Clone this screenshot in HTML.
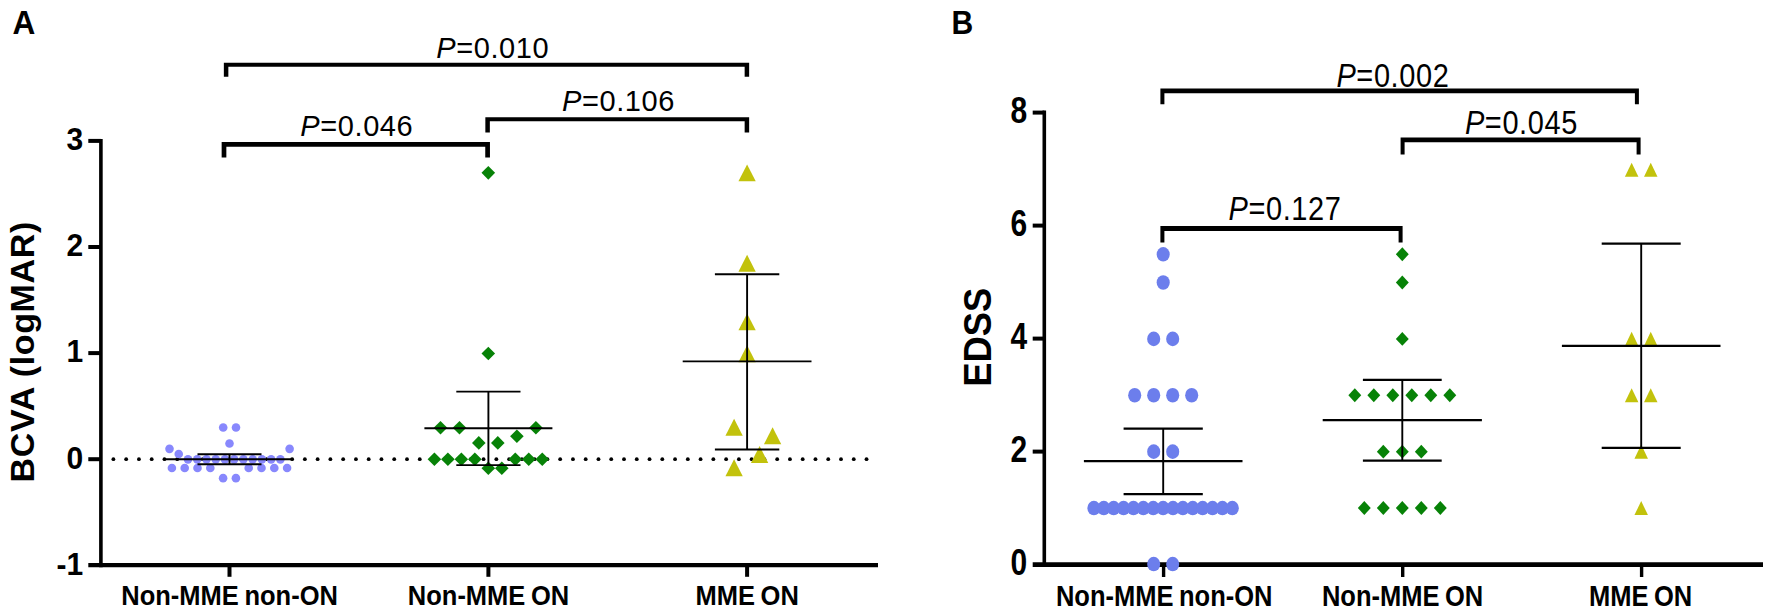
<!DOCTYPE html>
<html lang="en"><head><meta charset="utf-8"><title>Figure</title>
<style>
html,body{margin:0;padding:0;background:#fff;}
body{width:1772px;height:616px;overflow:hidden;}
svg{display:block;}
text{font-family:"Liberation Sans", sans-serif;fill:#000;}
.b{font-weight:bold;}
.p{font-size:29px;letter-spacing:0.6px;}
.xl{font-size:25.5px;font-weight:bold;}
.ln{stroke:#000;fill:none;}
</style></head><body>
<svg width="1772" height="616" viewBox="0 0 1772 616">
<rect width="1772" height="616" fill="#fff"/>
<text class="b" font-size="31.6px" transform="translate(12.4,34.0) scale(1,1.043)">A</text>
<text class="b" font-size="30.1px" transform="translate(951.4,34.0) scale(1,1.087)">B</text>
<line x1="100.90" y1="138.90" x2="100.90" y2="567.20" stroke="#000" stroke-width="3.60" />
<line x1="88.30" y1="565.20" x2="878.00" y2="565.20" stroke="#000" stroke-width="4.20" />
<line x1="88.30" y1="140.90" x2="100.90" y2="140.90" stroke="#000" stroke-width="4.00" />
<line x1="88.30" y1="247.00" x2="100.90" y2="247.00" stroke="#000" stroke-width="4.00" />
<line x1="88.30" y1="353.10" x2="100.90" y2="353.10" stroke="#000" stroke-width="4.00" />
<line x1="88.30" y1="459.20" x2="100.90" y2="459.20" stroke="#000" stroke-width="4.00" />
<line x1="229.50" y1="565.20" x2="229.50" y2="576.80" stroke="#000" stroke-width="4.00" />
<line x1="488.40" y1="565.20" x2="488.40" y2="576.80" stroke="#000" stroke-width="4.00" />
<line x1="747.10" y1="565.20" x2="747.10" y2="576.80" stroke="#000" stroke-width="4.00" />
<text class="b" font-size="30px" text-anchor="end" transform="translate(83.2,150.20) scale(1,1.075)">3</text>
<text class="b" font-size="30px" text-anchor="end" transform="translate(83.2,256.30) scale(1,1.075)">2</text>
<text class="b" font-size="30px" text-anchor="end" transform="translate(83.2,362.40) scale(1,1.075)">1</text>
<text class="b" font-size="30px" text-anchor="end" transform="translate(83.2,468.50) scale(1,1.075)">0</text>
<text class="b" font-size="30px" text-anchor="end" transform="translate(83.2,574.60) scale(1,1.075)">-1</text>
<text class="b" font-size="34px" letter-spacing="0.64px" text-anchor="middle" transform="translate(34.3,351.8) rotate(-90)">BCVA (logMAR)</text>
<text class="xl" word-spacing="-1.5px" text-anchor="middle" transform="translate(229.60,604.9) scale(1,1.056)">Non-MME non-ON</text>
<text class="xl" word-spacing="-1.5px" text-anchor="middle" transform="translate(488.50,604.9) scale(1,1.056)">Non-MME ON</text>
<text class="xl" word-spacing="-1.5px" text-anchor="middle" transform="translate(747.20,604.9) scale(1,1.056)">MME ON</text>
<g fill="#000">
<circle cx="113.40" cy="459.20" r="1.9"/>
<circle cx="126.17" cy="459.20" r="1.9"/>
<circle cx="138.93" cy="459.20" r="1.9"/>
<circle cx="151.69" cy="459.20" r="1.9"/>
<circle cx="164.46" cy="459.20" r="1.9"/>
<circle cx="177.22" cy="459.20" r="1.9"/>
<circle cx="189.99" cy="459.20" r="1.9"/>
<circle cx="202.75" cy="459.20" r="1.9"/>
<circle cx="215.52" cy="459.20" r="1.9"/>
<circle cx="228.28" cy="459.20" r="1.9"/>
<circle cx="241.05" cy="459.20" r="1.9"/>
<circle cx="253.81" cy="459.20" r="1.9"/>
<circle cx="266.58" cy="459.20" r="1.9"/>
<circle cx="279.34" cy="459.20" r="1.9"/>
<circle cx="292.11" cy="459.20" r="1.9"/>
<circle cx="304.87" cy="459.20" r="1.9"/>
<circle cx="317.64" cy="459.20" r="1.9"/>
<circle cx="330.40" cy="459.20" r="1.9"/>
<circle cx="343.17" cy="459.20" r="1.9"/>
<circle cx="355.93" cy="459.20" r="1.9"/>
<circle cx="368.70" cy="459.20" r="1.9"/>
<circle cx="381.46" cy="459.20" r="1.9"/>
<circle cx="394.23" cy="459.20" r="1.9"/>
<circle cx="406.99" cy="459.20" r="1.9"/>
<circle cx="419.76" cy="459.20" r="1.9"/>
<circle cx="432.52" cy="459.20" r="1.9"/>
<circle cx="445.29" cy="459.20" r="1.9"/>
<circle cx="458.05" cy="459.20" r="1.9"/>
<circle cx="470.82" cy="459.20" r="1.9"/>
<circle cx="483.58" cy="459.20" r="1.9"/>
<circle cx="496.35" cy="459.20" r="1.9"/>
<circle cx="509.11" cy="459.20" r="1.9"/>
<circle cx="521.88" cy="459.20" r="1.9"/>
<circle cx="534.64" cy="459.20" r="1.9"/>
<circle cx="547.41" cy="459.20" r="1.9"/>
<circle cx="560.17" cy="459.20" r="1.9"/>
<circle cx="572.94" cy="459.20" r="1.9"/>
<circle cx="585.70" cy="459.20" r="1.9"/>
<circle cx="598.47" cy="459.20" r="1.9"/>
<circle cx="611.23" cy="459.20" r="1.9"/>
<circle cx="624.00" cy="459.20" r="1.9"/>
<circle cx="636.76" cy="459.20" r="1.9"/>
<circle cx="649.53" cy="459.20" r="1.9"/>
<circle cx="662.29" cy="459.20" r="1.9"/>
<circle cx="675.06" cy="459.20" r="1.9"/>
<circle cx="687.82" cy="459.20" r="1.9"/>
<circle cx="700.59" cy="459.20" r="1.9"/>
<circle cx="713.35" cy="459.20" r="1.9"/>
<circle cx="726.12" cy="459.20" r="1.9"/>
<circle cx="738.88" cy="459.20" r="1.9"/>
<circle cx="751.65" cy="459.20" r="1.9"/>
<circle cx="764.41" cy="459.20" r="1.9"/>
<circle cx="777.18" cy="459.20" r="1.9"/>
<circle cx="789.94" cy="459.20" r="1.9"/>
<circle cx="802.71" cy="459.20" r="1.9"/>
<circle cx="815.47" cy="459.20" r="1.9"/>
<circle cx="828.24" cy="459.20" r="1.9"/>
<circle cx="841.00" cy="459.20" r="1.9"/>
<circle cx="853.77" cy="459.20" r="1.9"/>
<circle cx="866.53" cy="459.20" r="1.9"/>
</g>
<circle cx="223.20" cy="427.52" r="4.30" fill="#8888fd"/>
<circle cx="236.00" cy="427.52" r="4.30" fill="#8888fd"/>
<circle cx="229.50" cy="443.43" r="4.30" fill="#8888fd"/>
<circle cx="169.50" cy="448.85" r="4.30" fill="#8888fd"/>
<circle cx="178.74" cy="454.05" r="4.30" fill="#8888fd"/>
<circle cx="187.98" cy="459.35" r="4.30" fill="#8888fd"/>
<circle cx="197.22" cy="459.35" r="4.30" fill="#8888fd"/>
<circle cx="206.46" cy="459.35" r="4.30" fill="#8888fd"/>
<circle cx="215.70" cy="459.35" r="4.30" fill="#8888fd"/>
<circle cx="224.94" cy="459.35" r="4.30" fill="#8888fd"/>
<circle cx="234.18" cy="459.35" r="4.30" fill="#8888fd"/>
<circle cx="243.42" cy="459.35" r="4.30" fill="#8888fd"/>
<circle cx="252.66" cy="459.35" r="4.30" fill="#8888fd"/>
<circle cx="261.90" cy="459.35" r="4.30" fill="#8888fd"/>
<circle cx="271.14" cy="459.35" r="4.30" fill="#8888fd"/>
<circle cx="280.38" cy="459.35" r="4.30" fill="#8888fd"/>
<circle cx="289.62" cy="448.85" r="4.30" fill="#8888fd"/>
<circle cx="171.90" cy="467.95" r="4.30" fill="#8888fd"/>
<circle cx="184.70" cy="467.95" r="4.30" fill="#8888fd"/>
<circle cx="197.50" cy="467.95" r="4.30" fill="#8888fd"/>
<circle cx="210.30" cy="467.95" r="4.30" fill="#8888fd"/>
<circle cx="223.10" cy="478.15" r="4.30" fill="#8888fd"/>
<circle cx="235.90" cy="478.15" r="4.30" fill="#8888fd"/>
<circle cx="248.70" cy="467.95" r="4.30" fill="#8888fd"/>
<circle cx="261.50" cy="467.95" r="4.30" fill="#8888fd"/>
<circle cx="274.30" cy="467.95" r="4.30" fill="#8888fd"/>
<circle cx="287.10" cy="467.95" r="4.30" fill="#8888fd"/>
<line x1="165.60" y1="459.30" x2="293.40" y2="459.30" stroke="#000" stroke-width="1.90" />
<line x1="197.50" y1="454.20" x2="261.50" y2="454.20" stroke="#000" stroke-width="1.90" />
<line x1="197.50" y1="464.20" x2="261.50" y2="464.20" stroke="#000" stroke-width="1.90" />
<line x1="229.50" y1="454.20" x2="229.50" y2="464.20" stroke="#000" stroke-width="1.90" />
<path fill="#078207" d="M488.30 166.03 L495.10 172.83 L488.30 179.63 L481.50 172.83 Z"/>
<path fill="#078207" d="M488.30 346.70 L495.10 353.50 L488.30 360.30 L481.50 353.50 Z"/>
<path fill="#078207" d="M440.50 420.90 L447.30 427.70 L440.50 434.50 L433.70 427.70 Z"/>
<path fill="#078207" d="M459.50 420.90 L466.30 427.70 L459.50 434.50 L452.70 427.70 Z"/>
<path fill="#078207" d="M535.90 420.90 L542.70 427.70 L535.90 434.50 L529.10 427.70 Z"/>
<path fill="#078207" d="M516.90 429.40 L523.70 436.20 L516.90 443.00 L510.10 436.20 Z"/>
<path fill="#078207" d="M478.80 436.10 L485.60 442.90 L478.80 449.70 L472.00 442.90 Z"/>
<path fill="#078207" d="M497.80 436.10 L504.60 442.90 L497.80 449.70 L491.00 442.90 Z"/>
<path fill="#078207" d="M434.40 452.50 L441.20 459.30 L434.40 466.10 L427.60 459.30 Z"/>
<path fill="#078207" d="M447.88 452.50 L454.68 459.30 L447.88 466.10 L441.08 459.30 Z"/>
<path fill="#078207" d="M461.36 452.50 L468.16 459.30 L461.36 466.10 L454.56 459.30 Z"/>
<path fill="#078207" d="M474.84 452.50 L481.64 459.30 L474.84 466.10 L468.04 459.30 Z"/>
<path fill="#078207" d="M488.32 461.50 L495.12 468.30 L488.32 475.10 L481.52 468.30 Z"/>
<path fill="#078207" d="M501.80 461.50 L508.60 468.30 L501.80 475.10 L495.00 468.30 Z"/>
<path fill="#078207" d="M515.28 452.50 L522.08 459.30 L515.28 466.10 L508.48 459.30 Z"/>
<path fill="#078207" d="M528.76 452.50 L535.56 459.30 L528.76 466.10 L521.96 459.30 Z"/>
<path fill="#078207" d="M542.24 452.50 L549.04 459.30 L542.24 466.10 L535.44 459.30 Z"/>
<line x1="424.40" y1="428.20" x2="552.40" y2="428.20" stroke="#000" stroke-width="1.90" />
<line x1="456.30" y1="391.60" x2="520.50" y2="391.60" stroke="#000" stroke-width="1.90" />
<line x1="456.30" y1="465.10" x2="520.50" y2="465.10" stroke="#000" stroke-width="1.90" />
<line x1="488.40" y1="391.60" x2="488.40" y2="465.10" stroke="#000" stroke-width="1.90" />
<path fill="#c2c20c" d="M747.10 164.45 L755.75 181.35 L738.45 181.35 Z"/>
<path fill="#c2c20c" d="M747.10 254.75 L755.75 271.65 L738.45 271.65 Z"/>
<path fill="#c2c20c" d="M747.10 313.45 L755.75 330.35 L738.45 330.35 Z"/>
<path fill="#c2c20c" d="M747.10 345.35 L755.75 362.25 L738.45 362.25 Z"/>
<path fill="#c2c20c" d="M734.10 418.75 L742.75 435.65 L725.45 435.65 Z"/>
<path fill="#c2c20c" d="M772.60 427.25 L781.25 444.15 L763.95 444.15 Z"/>
<path fill="#c2c20c" d="M759.60 446.05 L768.25 462.95 L750.95 462.95 Z"/>
<path fill="#c2c20c" d="M734.10 459.35 L742.75 476.25 L725.45 476.25 Z"/>
<line x1="682.70" y1="361.40" x2="811.50" y2="361.40" stroke="#000" stroke-width="1.90" />
<line x1="714.90" y1="274.20" x2="779.30" y2="274.20" stroke="#000" stroke-width="1.90" />
<line x1="714.90" y1="449.50" x2="779.30" y2="449.50" stroke="#000" stroke-width="1.90" />
<line x1="747.10" y1="274.20" x2="747.10" y2="449.50" stroke="#000" stroke-width="1.90" />
<path fill="#000" d="M223.85 62.80 H749.15 V76.70 H744.65 V66.80 H228.35 V76.70 H223.85 Z"/>
<path fill="#000" d="M221.65 141.95 H489.95 V157.60 H485.25 V146.65 H226.35 V157.60 H221.65 Z"/>
<path fill="#000" d="M485.35 117.30 H749.15 V132.50 H744.65 V121.30 H489.85 V132.50 H485.35 Z"/>
<text class="p" text-anchor="middle" transform="translate(492.70,57.70) scale(1,1.040)"><tspan font-style="italic">P</tspan>=0.010</text>
<text class="p" text-anchor="middle" transform="translate(356.80,135.80) scale(1,1.040)"><tspan font-style="italic">P</tspan>=0.046</text>
<text class="p" text-anchor="middle" transform="translate(618.50,110.60) scale(1,1.040)"><tspan font-style="italic">P</tspan>=0.106</text>
<line x1="1044.30" y1="110.60" x2="1044.30" y2="566.60" stroke="#000" stroke-width="3.60" />
<line x1="1032.70" y1="564.60" x2="1763.00" y2="564.60" stroke="#000" stroke-width="4.80" />
<line x1="1032.70" y1="112.60" x2="1044.30" y2="112.60" stroke="#000" stroke-width="4.00" />
<line x1="1032.70" y1="225.60" x2="1044.30" y2="225.60" stroke="#000" stroke-width="4.00" />
<line x1="1032.70" y1="338.60" x2="1044.30" y2="338.60" stroke="#000" stroke-width="4.00" />
<line x1="1032.70" y1="451.60" x2="1044.30" y2="451.60" stroke="#000" stroke-width="4.00" />
<line x1="1163.60" y1="564.60" x2="1163.60" y2="577.00" stroke="#000" stroke-width="3.40" />
<line x1="1402.70" y1="564.60" x2="1402.70" y2="577.00" stroke="#000" stroke-width="3.40" />
<line x1="1641.60" y1="564.60" x2="1641.60" y2="577.00" stroke="#000" stroke-width="3.40" />
<text class="b" font-size="30px" text-anchor="end" transform="translate(1027.3,122.70) scale(1,1.2)">8</text>
<text class="b" font-size="30px" text-anchor="end" transform="translate(1027.3,235.70) scale(1,1.2)">6</text>
<text class="b" font-size="30px" text-anchor="end" transform="translate(1027.3,348.70) scale(1,1.2)">4</text>
<text class="b" font-size="30px" text-anchor="end" transform="translate(1027.3,461.70) scale(1,1.2)">2</text>
<text class="b" font-size="30px" text-anchor="end" transform="translate(1027.3,574.70) scale(1,1.2)">0</text>
<text class="b" font-size="36.8px" text-anchor="middle" transform="translate(991.1,337.2) rotate(-90) scale(0.99,1.04)">EDSS</text>
<text class="xl" word-spacing="-1.5px" text-anchor="middle" transform="translate(1164.20,606.3) scale(1,1.17)">Non-MME non-ON</text>
<text class="xl" word-spacing="-1.5px" text-anchor="middle" transform="translate(1402.60,606.3) scale(1,1.17)">Non-MME ON</text>
<text class="xl" word-spacing="-1.5px" text-anchor="middle" transform="translate(1640.60,606.3) scale(1,1.17)">MME ON</text>
<ellipse cx="1163.20" cy="254.30" rx="6.55" ry="7.30" fill="#6c7eec"/>
<ellipse cx="1163.20" cy="282.49" rx="6.55" ry="7.30" fill="#6c7eec"/>
<ellipse cx="1153.70" cy="338.88" rx="6.55" ry="7.30" fill="#6c7eec"/>
<ellipse cx="1172.70" cy="338.88" rx="6.55" ry="7.30" fill="#6c7eec"/>
<ellipse cx="1134.70" cy="395.27" rx="6.55" ry="7.30" fill="#6c7eec"/>
<ellipse cx="1153.70" cy="395.27" rx="6.55" ry="7.30" fill="#6c7eec"/>
<ellipse cx="1172.70" cy="395.27" rx="6.55" ry="7.30" fill="#6c7eec"/>
<ellipse cx="1191.70" cy="395.27" rx="6.55" ry="7.30" fill="#6c7eec"/>
<ellipse cx="1153.70" cy="451.66" rx="6.55" ry="7.30" fill="#6c7eec"/>
<ellipse cx="1172.70" cy="451.66" rx="6.55" ry="7.30" fill="#6c7eec"/>
<ellipse cx="1093.90" cy="508.05" rx="6.55" ry="7.30" fill="#6c7eec"/>
<ellipse cx="1103.79" cy="508.05" rx="6.55" ry="7.30" fill="#6c7eec"/>
<ellipse cx="1113.67" cy="508.05" rx="6.55" ry="7.30" fill="#6c7eec"/>
<ellipse cx="1123.56" cy="508.05" rx="6.55" ry="7.30" fill="#6c7eec"/>
<ellipse cx="1133.44" cy="508.05" rx="6.55" ry="7.30" fill="#6c7eec"/>
<ellipse cx="1143.33" cy="508.05" rx="6.55" ry="7.30" fill="#6c7eec"/>
<ellipse cx="1153.22" cy="508.05" rx="6.55" ry="7.30" fill="#6c7eec"/>
<ellipse cx="1163.10" cy="508.05" rx="6.55" ry="7.30" fill="#6c7eec"/>
<ellipse cx="1172.99" cy="508.05" rx="6.55" ry="7.30" fill="#6c7eec"/>
<ellipse cx="1182.87" cy="508.05" rx="6.55" ry="7.30" fill="#6c7eec"/>
<ellipse cx="1192.76" cy="508.05" rx="6.55" ry="7.30" fill="#6c7eec"/>
<ellipse cx="1202.65" cy="508.05" rx="6.55" ry="7.30" fill="#6c7eec"/>
<ellipse cx="1212.53" cy="508.05" rx="6.55" ry="7.30" fill="#6c7eec"/>
<ellipse cx="1222.42" cy="508.05" rx="6.55" ry="7.30" fill="#6c7eec"/>
<ellipse cx="1232.30" cy="508.05" rx="6.55" ry="7.30" fill="#6c7eec"/>
<ellipse cx="1153.70" cy="564.04" rx="6.55" ry="7.30" fill="#6c7eec"/>
<ellipse cx="1172.70" cy="564.04" rx="6.55" ry="7.30" fill="#6c7eec"/>
<line x1="1083.90" y1="461.20" x2="1242.50" y2="461.20" stroke="#000" stroke-width="2.30" />
<line x1="1123.60" y1="428.60" x2="1202.80" y2="428.60" stroke="#000" stroke-width="2.30" />
<line x1="1123.60" y1="494.20" x2="1202.80" y2="494.20" stroke="#000" stroke-width="2.30" />
<line x1="1163.20" y1="428.60" x2="1163.20" y2="494.20" stroke="#000" stroke-width="1.90" />
<path fill="#078207" d="M1402.30 247.35 L1408.75 254.30 L1402.30 261.25 L1395.85 254.30 Z"/>
<path fill="#078207" d="M1402.30 275.54 L1408.75 282.49 L1402.30 289.44 L1395.85 282.49 Z"/>
<path fill="#078207" d="M1402.30 331.93 L1408.75 338.88 L1402.30 345.83 L1395.85 338.88 Z"/>
<path fill="#078207" d="M1354.80 388.32 L1361.25 395.27 L1354.80 402.22 L1348.35 395.27 Z"/>
<path fill="#078207" d="M1373.80 388.32 L1380.25 395.27 L1373.80 402.22 L1367.35 395.27 Z"/>
<path fill="#078207" d="M1392.80 388.32 L1399.25 395.27 L1392.80 402.22 L1386.35 395.27 Z"/>
<path fill="#078207" d="M1411.80 388.32 L1418.25 395.27 L1411.80 402.22 L1405.35 395.27 Z"/>
<path fill="#078207" d="M1430.80 388.32 L1437.25 395.27 L1430.80 402.22 L1424.35 395.27 Z"/>
<path fill="#078207" d="M1449.80 388.32 L1456.25 395.27 L1449.80 402.22 L1443.35 395.27 Z"/>
<path fill="#078207" d="M1383.30 444.71 L1389.75 451.66 L1383.30 458.61 L1376.85 451.66 Z"/>
<path fill="#078207" d="M1402.30 444.71 L1408.75 451.66 L1402.30 458.61 L1395.85 451.66 Z"/>
<path fill="#078207" d="M1421.30 444.71 L1427.75 451.66 L1421.30 458.61 L1414.85 451.66 Z"/>
<path fill="#078207" d="M1364.30 501.10 L1370.75 508.05 L1364.30 515.00 L1357.85 508.05 Z"/>
<path fill="#078207" d="M1383.30 501.10 L1389.75 508.05 L1383.30 515.00 L1376.85 508.05 Z"/>
<path fill="#078207" d="M1402.30 501.10 L1408.75 508.05 L1402.30 515.00 L1395.85 508.05 Z"/>
<path fill="#078207" d="M1421.30 501.10 L1427.75 508.05 L1421.30 515.00 L1414.85 508.05 Z"/>
<path fill="#078207" d="M1440.30 501.10 L1446.75 508.05 L1440.30 515.00 L1433.85 508.05 Z"/>
<line x1="1322.70" y1="420.20" x2="1481.90" y2="420.20" stroke="#000" stroke-width="2.30" />
<line x1="1362.90" y1="379.80" x2="1441.70" y2="379.80" stroke="#000" stroke-width="2.30" />
<line x1="1362.90" y1="460.70" x2="1441.70" y2="460.70" stroke="#000" stroke-width="2.30" />
<line x1="1402.30" y1="379.80" x2="1402.30" y2="460.70" stroke="#000" stroke-width="1.90" />
<path fill="#c2c20c" d="M1631.65 162.66 L1638.40 176.76 L1624.90 176.76 Z"/>
<path fill="#c2c20c" d="M1650.75 162.66 L1657.50 176.76 L1644.00 176.76 Z"/>
<path fill="#c2c20c" d="M1631.65 331.83 L1638.40 345.93 L1624.90 345.93 Z"/>
<path fill="#c2c20c" d="M1650.75 331.83 L1657.50 345.93 L1644.00 345.93 Z"/>
<path fill="#c2c20c" d="M1631.65 388.22 L1638.40 402.32 L1624.90 402.32 Z"/>
<path fill="#c2c20c" d="M1650.75 388.22 L1657.50 402.32 L1644.00 402.32 Z"/>
<path fill="#c2c20c" d="M1641.20 444.61 L1647.95 458.71 L1634.45 458.71 Z"/>
<path fill="#c2c20c" d="M1641.20 501.00 L1647.95 515.10 L1634.45 515.10 Z"/>
<line x1="1561.90" y1="345.90" x2="1720.50" y2="345.90" stroke="#000" stroke-width="2.30" />
<line x1="1601.70" y1="243.60" x2="1680.70" y2="243.60" stroke="#000" stroke-width="2.30" />
<line x1="1601.70" y1="447.90" x2="1680.70" y2="447.90" stroke="#000" stroke-width="2.30" />
<line x1="1641.20" y1="243.60" x2="1641.20" y2="447.90" stroke="#000" stroke-width="1.90" />
<path fill="#000" d="M1160.40 88.40 H1638.90 V104.20 H1634.90 V93.20 H1164.40 V104.20 H1160.40 Z"/>
<path fill="#000" d="M1400.60 137.40 H1640.60 V154.50 H1636.60 V142.20 H1404.60 V154.50 H1400.60 Z"/>
<path fill="#000" d="M1160.40 226.10 H1402.60 V242.60 H1398.60 V230.90 H1164.40 V242.60 H1160.40 Z"/>
<text class="p" text-anchor="middle" transform="translate(1392.90,86.60) scale(1,1.120)"><tspan font-style="italic">P</tspan>=0.002</text>
<text class="p" text-anchor="middle" transform="translate(1521.40,134.10) scale(1,1.120)"><tspan font-style="italic">P</tspan>=0.045</text>
<text class="p" text-anchor="middle" transform="translate(1285.00,219.80) scale(1,1.120)"><tspan font-style="italic">P</tspan>=0.127</text>
</svg></body></html>
